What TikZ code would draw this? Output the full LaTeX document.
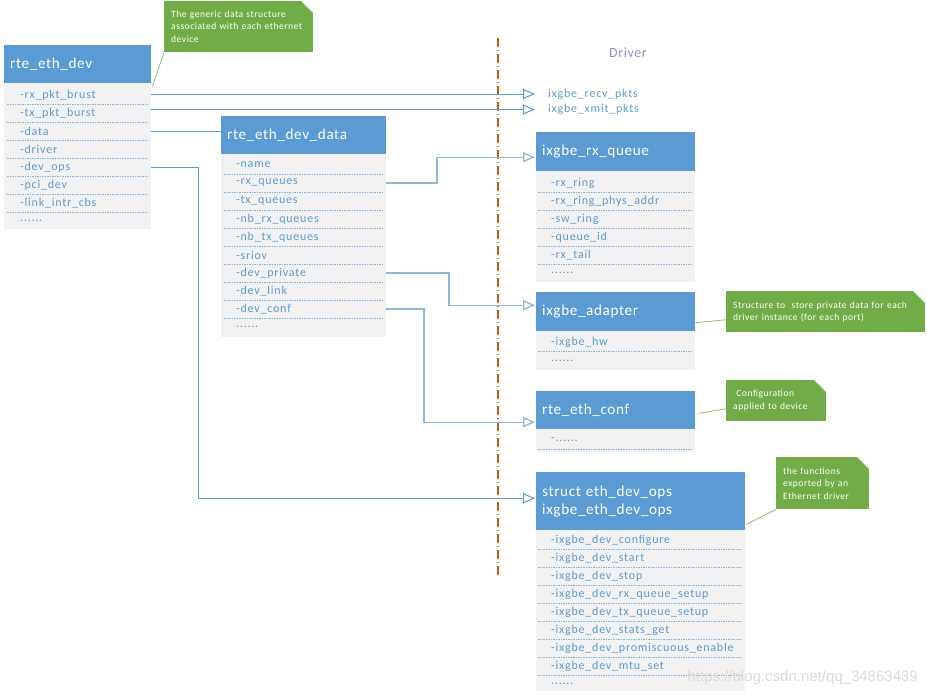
\documentclass[tikz,border=0pt]{standalone}
\usepackage{fontspec}
\setmainfont{Carlito}
\newfontfamily\wmfont{Liberation Sans}
\newfontfamily\itemfont[LetterSpace=6.5]{Carlito}
\newfontfamily\hdrfont[LetterSpace=4]{Carlito}
\newfontfamily\notefont[LetterSpace=5]{Carlito}
\usetikzlibrary{arrows.meta}
\definecolor{hblue}{HTML}{5B9BD5}
\definecolor{lblue}{HTML}{8FB8E0}
\definecolor{bgray}{HTML}{F2F2F2}
\definecolor{itxt}{HTML}{5B9BD5}
\definecolor{ngreen}{HTML}{70AD47}
\definecolor{vline}{HTML}{C55A11}
\definecolor{drv}{RGB}{150,140,190}
\newcommand{\sixdots}{......}
\begin{document}
\begin{tikzpicture}[x=1pt,y=-1pt,
 hdr/.style={fill=hblue, text=white, anchor=north west, inner xsep=6pt, inner ysep=0pt, align=left, font=\hdrfont\fontsize{15.2}{18}\selectfont},
 bodybox/.style={fill=bgray, anchor=north west, inner sep=0pt},
 itm/.style={anchor=west, inner sep=0pt, text=itxt, font=\itemfont\fontsize{12}{13}\selectfont},
 sepline/.style={draw=itxt!75, line width=0.8pt, dash pattern=on 1.5pt off 1pt},
 conn/.style={draw=hblue, line width=1pt},
 conn2/.style={draw=lblue, line width=1.3pt},
 arr/.style={-{Triangle[open, length=12pt, width=10pt, fill=white]}},
 note/.style={fill=ngreen, text=white, anchor=north west, inner xsep=7pt, inner ysep=0pt, align=left, font=\notefont\fontsize{9.6}{12.5}\selectfont},
 pointer/.style={draw=ngreen!80, line width=0.8pt},
]
\useasboundingbox (0,0) rectangle (927,696);

% vertical separator
\coordinate (vtop) at (498,38);
\coordinate (vbot) at (498,575);
\draw[vline, line width=1.5pt, dash pattern=on 9pt off 3pt on 1pt off 3pt] (vtop) -- (vbot);

\node[text=drv, font=\hdrfont\fontsize{14}{16}\selectfont] (driver) at (628,53) {Driver};

% rte_eth_dev
\node[hdr, text width=135pt, minimum height=38pt] (devhdr) at (4,45) {rte\_eth\_dev};
\node[bodybox, minimum width=147pt, minimum height=146pt] (devbody) at (4,83) {};
\foreach \t [count=\i] in {-rx\_pkt\_brust,-tx\_pkt\_burst,-data,-driver,-dev\_ops,-pci\_dev,-link\_intr\_cbs,\sixdots}
  \node[itm] (dev-\i) at (20,{95+18*(\i-1)}) {\t};
\foreach \i in {0,1,2,3,4,5,6}
  \draw[sepline] (7,{104+18*\i}) -- (148,{104+18*\i});

% rte_eth_dev_data
\node[hdr, text width=153pt, minimum height=38pt] (ddhdr) at (221,116) {rte\_eth\_dev\_data};
\node[bodybox, minimum width=165pt, minimum height=183pt] (ddbody) at (221,154) {};
\foreach \t [count=\i] in {-name,-rx\_queues,-tx\_queues,-nb\_rx\_queues,-nb\_tx\_queues,-sriov,-dev\_private,-dev\_link,-dev\_conf,\sixdots}
  \node[itm] (dd-\i) at (236,{165+18*(\i-1)}) {\t};
\foreach \i in {0,1,2,3,4,5,6,7,8}
  \draw[sepline] (224,{174+18*\i}) -- (383,{174+18*\i});

% ixgbe_rx_queue
\node[hdr, text width=147pt, minimum height=39pt] (rxqhdr) at (536,132) {ixgbe\_rx\_queue};
\node[bodybox, minimum width=159pt, minimum height=111pt] (rxqbody) at (536,171) {};
\foreach \t [count=\i] in {-rx\_ring,-rx\_ring\_phys\_addr,-sw\_ring,-queue\_id,-rx\_tail,\sixdots}
  \node[itm] (rxq-\i) at (551,{183+18*(\i-1)}) {\t};
\foreach \i in {0,1,2,3,4}
  \draw[sepline] (538,{192+18*\i}) -- (692,{192+18*\i});

% ixgbe_adapter
\node[hdr, text width=147pt, minimum height=39pt] (adhdr) at (536,292) {ixgbe\_adapter};
\node[bodybox, minimum width=159pt, minimum height=39pt] (adbody) at (536,331) {};
\node[itm] (ad-1) at (551,342) {-ixgbe\_hw};
\node[itm] (ad-2) at (551,361) {\sixdots};
\draw[sepline] (538,351) -- (692,351);

% rte_eth_conf
\node[hdr, text width=147pt, minimum height=38pt] (confhdr) at (536,391) {rte\_eth\_conf};
\node[bodybox, minimum width=159pt, minimum height=23pt] (confbody) at (536,429) {};
\node[itm] (conf-1) at (551,440) {-\sixdots};
\draw[sepline] (538,449) -- (692,449);

% eth_dev_ops
\node[hdr, text width=197pt, minimum height=58pt] (opshdr) at (536,472) {struct eth\_dev\_ops\\ixgbe\_eth\_dev\_ops};
\node[bodybox, minimum width=209pt, minimum height=161pt] (opsbody) at (536,530) {};
\foreach \t [count=\i] in {-ixgbe\_dev\_configure,-ixgbe\_dev\_start,-ixgbe\_dev\_stop,-ixgbe\_dev\_rx\_queue\_setup,-ixgbe\_dev\_tx\_queue\_setup,-ixgbe\_dev\_stats\_get,-ixgbe\_dev\_promiscuous\_enable,-ixgbe\_dev\_mtu\_set,\sixdots}
  \node[itm] (ops-\i) at (551,{540+18*(\i-1)}) {\t};
\foreach \i in {0,1,2,3,4,5,6,7}
  \draw[sepline] (538,{549+18*\i}) -- (742,{549+18*\i});

% function targets
\node[itm] (recv) at (548,94) {ixgbe\_recv\_pkts};
\node[itm] (xmit) at (548,109.5) {ixgbe\_xmit\_pkts};

% notes
\node[note, text width=135pt, minimum height=51pt] (note1) at (164,1) {The generic data structure\\associated with each ethernet\\device};
\node[note, text width=185pt, minimum height=41pt] (note2) at (726,291) {Structure to\ \ store private data for each\\driver instance (for each port)};
\node[note, text width=86pt, minimum height=41pt] (note3) at (726,380) {\ Configuration\\applied to device};
\node[note, text width=79pt, minimum height=52pt] (note4) at (776,457) {the functions\\exported by an\\Ethernet driver};
\foreach \n in {note1,note2,note3,note4}{
  \fill[white] ([xshift=-12pt]\n.north east) -- ([xshift=0.5pt,yshift=0.5pt]\n.north east) -- ([yshift=-12pt]\n.north east) -- cycle;
  \draw[ngreen!35, line width=0.6pt] ([xshift=-12pt]\n.north east) -- ([yshift=-12pt]\n.north east);
}
\draw[pointer] ([xshift=1pt,yshift=-3pt]devhdr.south east) -- (note1.south west);
\draw[pointer] ([yshift=-11pt]adhdr.east) -- ([yshift=-8pt]note2.west);
\draw[pointer] ([xshift=4pt,yshift=-3pt]confhdr.east) -- ([yshift=-8pt]note3.west);
\draw[pointer] ([xshift=1pt,yshift=6pt]opshdr.south east) -- (note4.south west);

% connectors
\coordinate (b1) at (198,0);
\coordinate (b2) at (437,0);
\coordinate (b3) at (449,0);
\coordinate (b4) at (424,0);
\draw[conn, arr] (devbody.east |- recv.west) -- ([xshift=-13pt]recv.west);
\draw[conn, arr] (devbody.east |- xmit.west) -- ([xshift=-13pt]xmit.west);
\draw[conn] (devbody.east |- dev-3) -- (ddhdr.west |- dev-3);
\draw[conn, arr] (devbody.east |- dev-5) -- (dev-5 -| b1) |- ([xshift=-1pt,yshift=3pt]opshdr.west);
\draw[conn2, arr] (ddbody.east |- dd-2) -- (dd-2 -| b2) |- ([xshift=-1pt,yshift=-5.5pt]rxqhdr.west);
\draw[conn2, arr] (ddbody.east |- dd-7) -- (dd-7 -| b3) |- ([xshift=-1pt,yshift=6.5pt]adhdr.west);
\draw[conn2, arr] (ddbody.east |- dd-9) -- (dd-9 -| b4) |- ([xshift=-1pt,yshift=-12pt]confhdr.west);

% watermark
\node[text=gray!28, font=\wmfont\fontsize{15}{17}\selectfont, anchor=east, inner sep=0pt] (wm) at (918,678) {https://blog.csdn.net/qq\_34863439};
\end{tikzpicture}
\end{document}
